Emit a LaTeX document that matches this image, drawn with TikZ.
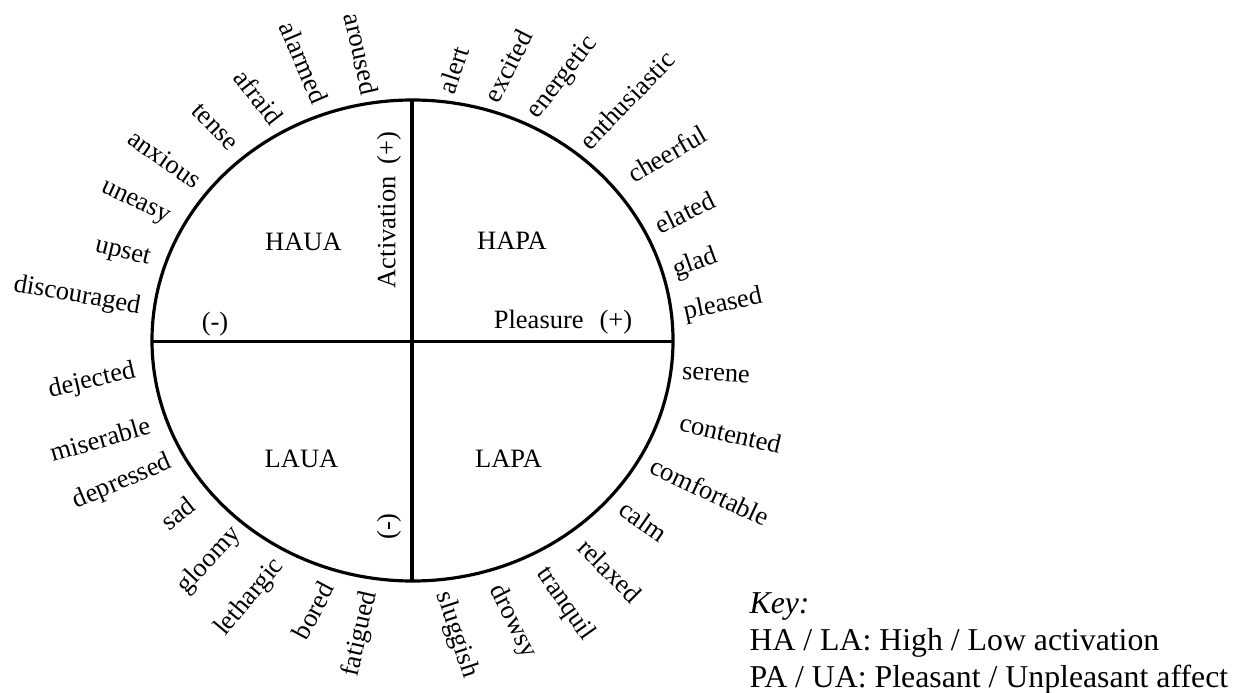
\documentclass[tikz,border=0pt]{standalone}
\usepackage{fontspec}
\setmainfont{Liberation Serif}
\begin{document}
\begin{tikzpicture}[x=0.3774pt, y=-0.3774pt,
  every node/.style={inner sep=0pt, font=\fontsize{10}{12}\selectfont}
]

\tikzstyle{word}=[anchor=center]
\tikzstyle{axis}=[line width=1.2pt]
\tikzstyle{keytext}=[anchor=base west, font=\fontsize{12}{14}\selectfont]

\useasboundingbox (0,0) rectangle (1247,692);

% circle and axes
\coordinate (O) at (412.5,340.5);
\coordinate (N) at (412,100.5);
\coordinate (S) at (412,581);
\coordinate (W) at (152,341.5);
\coordinate (E) at (673,341.5);

\draw[axis] (O) ellipse [x radius=260.5, y radius=240.5];
\draw[axis] (N) -- (S);
\draw[axis] (W) -- (E);

% quadrant names
\node (haua) at (303.5,241.5) {HAUA};
\node (hapa) at (512,241) {HAPA};
\node (laua) at (301.5,459) {LAUA};
\node (lapa) at (508.5,459) {LAPA};

% axis labels
\node [rotate=90] (actplus) at (389,210) {Activation\hspace{0.45em}(+)};
\node [rotate=90] (actminus) at (389,526.5) {(-)};
\node (pleplus) at (563,322) {Pleasure\hspace{0.6em}(+)};
\node (pleminus) at (215,324) {(-)};

% affect words round the circle
\foreach \w/\x/\y/\r in {
  aroused/361.5/54/-77, alarmed/304/62.5/-67, afraid/259/97/-52,
  tense/215/127/-46, anxious/165/159/-35, uneasy/135/204/-25,
  upset/122.5/253.5/-14, discouraged/77/296/-10,
  alert/453.5/70/72, excited/508/66/63, energetic/563/78/52,
  enthusiastic/627/100/46, cheerful/667/154/30, elated/685/212.5/26,
  glad/695.5/263.5/20, pleased/723/305/12,
  dejected/92/381/13, miserable/100/439/16, depressed/122.5/482/23,
  sad/177.5/513/38, gloomy/209.5/560.5/47, lethargic/250/597.5/50,
  bored/313/610.5/62, fatigued/360.5/634/77,
  serene/716/375/-3, contented/730.5/433.5/-13, comfortable/710/491.5/-25,
  calm/643.5/521/-35, relaxed/610/570.5/-45, tranquil/565/604/-55,
  drowsy/512.5/621.5/-63, sluggish/456.5/635/-72}
  \node [word, rotate=\r] (\w) at (\x,\y) {\w};

% key
\node [keytext] (key) at (749,613) {\textit{Key:}};
\node [keytext] (keyha) at (749,650) {HA / LA: High / Low activation};
\node [keytext] (keypa) at (749,687) {PA / UA: Pleasant / Unpleasant affect};
\end{tikzpicture}
\end{document}
